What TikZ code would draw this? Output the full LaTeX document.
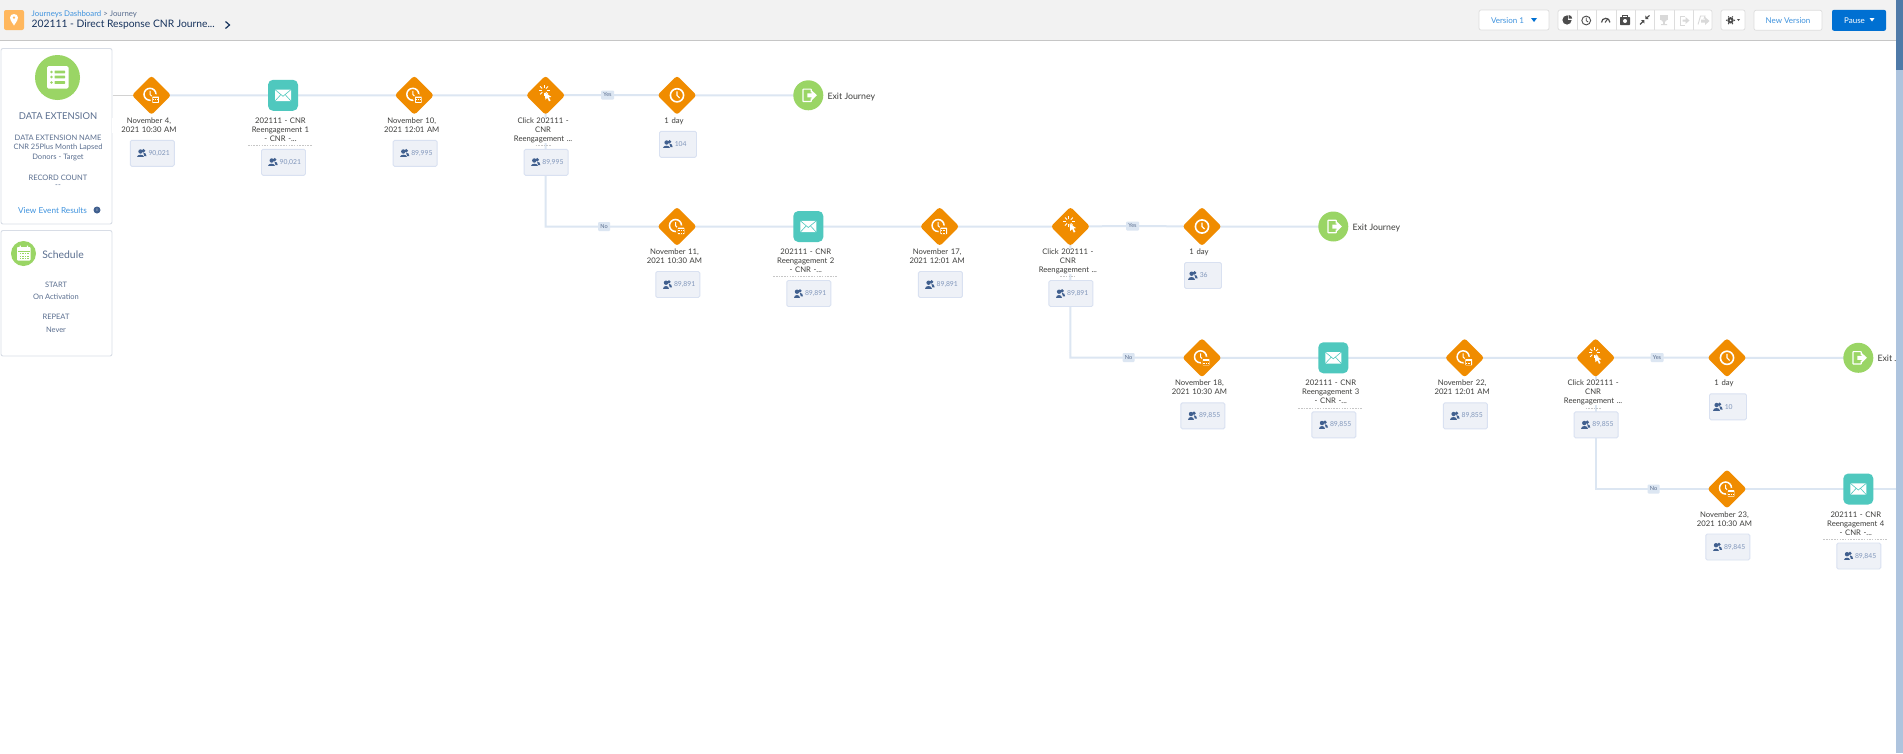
\documentclass[tikz,border=0pt]{standalone}
\usepackage{fontspec}
\setmainfont{Lato}
\usetikzlibrary{shapes.geometric,backgrounds}
\definecolor{orangeN}{HTML}{F08C00}
\definecolor{tealN}{HTML}{4FC8BE}
\definecolor{greenN}{HTML}{9AD565}
\definecolor{linkC}{HTML}{DCE6F2}
\definecolor{boxF}{HTML}{EEF1F7}
\definecolor{boxB}{HTML}{D9E1F1}
\definecolor{labelC}{HTML}{3E3E3C}
\definecolor{slateC}{HTML}{5A6E8F}
\definecolor{navyC}{HTML}{16325C}
\definecolor{blueC}{HTML}{3F93DE}
\definecolor{peopleC}{HTML}{41608F}
\definecolor{countC}{HTML}{7F95BA}
\definecolor{panelB}{HTML}{D8DDE6}
\definecolor{headF}{HTML}{F2F2F2}
\definecolor{btnB}{HTML}{DDDDDD}
\definecolor{iconD}{HTML}{4C4C4C}
\definecolor{iconL}{HTML}{D9D9D9}
\definecolor{appC}{HTML}{FFB75D}
\definecolor{pauseC}{HTML}{0070D2}
\definecolor{stripC}{HTML}{AEC4DE}
\definecolor{stripT}{HTML}{4F7AA8}
\tikzset{
  x=1pt,y=-1pt,
  diam/.style={diamond,aspect=1,minimum size=39.5pt,inner sep=0pt,fill=orangeN,rounded corners=3pt},
  tealbox/.style={minimum width=30pt,minimum height=31pt,inner sep=0pt,fill=tealN,rounded corners=5pt},
  exitc/.style={circle,minimum size=30pt,inner sep=0pt,fill=greenN},
  cntbox/.style={minimum width=#1,minimum height=26pt,inner sep=0pt,fill=boxF,draw=boxB,line width=.9pt,rounded corners=1.5pt},
  cntbox/.default=44pt,
  lab/.style={anchor=north,inner sep=0pt,text width=74pt,align=center,text=labelC,font=\fontsize{7.7}{9}\selectfont,fill=white},
  cnttext/.style={inner sep=0pt,text=countC,font=\fontsize{6.8}{8}\selectfont},
  exitt/.style={anchor=west,inner sep=0pt,text=labelC,font=\fontsize{8.8}{10}\selectfont},
  link/.style={draw=linkC,line width=2pt},
  tag/.style={inner sep=0pt,minimum height=9pt,fill=linkC,rounded corners=1pt,text=slateC,font=\fontsize{5.6}{6}\selectfont},
  frag/.style={draw=gray!45,line width=.6pt,dash pattern=on 1.5pt off 1.2pt},
  panel/.style={draw=panelB,line width=.9pt,fill=white,rounded corners=2pt},
  ptitle/.style={inner sep=0pt,text=slateC,font=\fontsize{#1}{10}\selectfont},
  ptitle/.default=7.5,
  btn/.style={draw=btnB,line width=.7pt,fill=white,rounded corners=2pt},
  peopleicon/.pic={
    \fill[peopleC] (1.8,-2.6) circle (1.8) (-1.2,-1.8) circle (2.2);
    \fill[peopleC] (-4.6,4) .. controls (-4.6,0.6) and (2,0.6) .. (2,4) -- cycle;
    \fill[peopleC] (1.6,-0.6) .. controls (3.6,-0.8) and (4.8,0.6) .. (4.8,2.8) -- (2.6,2.8) -- cycle;
  },
  clockicon/.pic={
    \draw[white,line width=1.6pt] (0,0) circle (6.6);
    \draw[white,line width=1.1pt] (0,-4) -- (0,0) -- (2.6,2.6);
  },
  timericon/.pic={
    \draw[white,line width=1.5pt] (-1.5,-1) circle (6);
    \draw[white,line width=1pt] (-1.5,-4.4) -- (-1.5,-.8) -- (.8,1.4);
    \fill[orangeN] (4.2,4.2) circle (5.4);
    \fill[white,rounded corners=.5pt] (.8,1.2) rectangle (7.4,7.6);
    \draw[orangeN,line width=.5pt] (1.4,3) -- (6.8,3) (1.4,4.6) -- (6.8,4.6) (1.4,6.2) -- (6.8,6.2) (3,3) -- (3,7) (5.2,3) -- (5.2,7);
  },
  clickicon/.pic={
    \foreach \a in {0,45,...,315}{\draw[white,line width=.9pt] (\a:2.6) ++(-.5,-2) -- ++(\a:3);}
    \fill[white] (.2,.2) -- (6.8,4.6) -- (4.2,5) -- (6,8.2) -- (4.4,9) -- (2.8,5.6) -- (.8,7.4) -- cycle;
  },
  mailicon/.pic={
    \fill[white,rounded corners=.5pt] (-8,-5.7) rectangle (8,5.7);
    \draw[tealN,line width=.6pt] (-8,-5.7) -- (0,1) -- (8,-5.7) (-8,5.7) -- (-2.2,-.6) (8,5.7) -- (2.2,-.6);
  },
  exiticon/.pic={
    \draw[white,line width=1.2pt,rounded corners=.6pt] (3,-3) -- (3,-6.2) -- (-5.4,-6.2) -- (-5.4,6.2) -- (3,6.2) -- (3,3);
    \fill[white] (-1,-2) -- (3.4,-2) -- (3.4,-5) -- (8.6,0) -- (3.4,5) -- (3.4,2) -- (-1,2) -- cycle;
  },
}
\newcommand{\CountBox}[5]{% name, x, y, count, width
  \node[cntbox=#5] (#1-cnt) at (#2,#3) {};
  \pic at ({#2-10.6+(44-#5)*.06},#3) {peopleicon};
  \node[cnttext,anchor=west] (#1-val) at ({#2-4+(44-#5)*.08},#3) {#4};
}
\newcommand{\TimerN}[6]{% name,x,y,l1,l2,count
  \node[diam] (#1) at (#2,#3) {};
  \pic at (#2,#3) {timericon};
  \node[lab] (#1-lab) at ({#2-2.5},{#3+22.3}) {#4\\#5};
  \CountBox{#1}{#2+.8}{#3+58}{#6}{44}
}
\newcommand{\MailN}[5]{% name,x,y,num,count
  \node[tealbox] (#1) at (#2,#3) {};
  \pic at (#2,#3) {mailicon};
  \node[lab] (#1-lab) at ({#2-2.5},{#3+22.3}) {202111 - CNR\\Reengagement #4\\- CNR -...};
  \draw[frag] ({#2-35},{#3+50}) -- ({#2+29},{#3+50});
  \CountBox{#1}{#2+.5}{#3+67}{#5}{44}
}
\newcommand{\ClickN}[4]{% name,x,y,count
  \node[diam] (#1) at (#2,#3) {};
  \pic at ({#2-1},{#3-3}) {clickicon};
  \node[lab] (#1-lab) at ({#2-2.5},{#3+22.3}) {Click 202111 -\\CNR\\Reengagement ...};
  \draw[frag] ({#2-10},{#3+50}) -- ({#2+5},{#3+50});
  \CountBox{#1}{#2+.5}{#3+67}{#4}{44}
}
\newcommand{\DayN}[4]{% name,x,y,count
  \node[diam] (#1) at (#2,#3) {};
  \pic at (#2,#3) {clockicon};
  \node[lab,text width=30pt] (#1-lab) at ({#2-3},{#3+22.3}) {1 day};
  \CountBox{#1}{#2+1}{#3+49}{#4}{37}
}
\newcommand{\ExitN}[3]{% name,x,y
  \node[exitc] (#1) at (#2,#3) {};
  \pic at (#2,#3) {exiticon};
  \node[exitt] (#1-lab) at ({#2+19},{#3+1.3}) {Exit Journey};
}
\begin{document}
\begin{tikzpicture}
\useasboundingbox (0,0) rectangle (1903,753);
\begin{pgfonlayer}{background}
\fill[white] (0,0) rectangle (1903,753);
\end{pgfonlayer}
% header
\fill[headF] (0,0) rectangle (1903,40);
\draw[gray!45,line width=.9pt] (0,40.5) -- (1903,40.5);
\node[fill=appC,minimum size=20pt,inner sep=0pt,rounded corners=2pt] (appicon) at (14,20) {};
\fill[white,even odd rule] (14,25.5) .. controls (11,21) and (10,19.5) .. (10,17.6) .. controls (10,15.4) and (11.8,14) .. (14,14) .. controls (16.2,14) and (18,15.4) .. (18,17.6) .. controls (18,19.5) and (17,21) .. (14,25.5) -- cycle (14,17.6) circle (1.6);
\node[anchor=west,inner sep=0pt,font=\fontsize{7.8}{9}\selectfont] (crumb) at (31.5,14.3) {\textcolor{blueC}{Journeys Dashboard}\textcolor{slateC}{\ >\ Journey}};
\node[anchor=west,inner sep=0pt,text=navyC,font=\fontsize{10.3}{11}\selectfont] (title) at (31.5,25) {202111 - Direct Response CNR Journe...};
\draw[navyC,line width=1.2pt] (225.5,21.5) -- (229.5,25) -- (225.5,28.5);
% toolbar
\node[btn,minimum width=70pt,minimum height=20pt,inner sep=0pt] (verb) at (1514,20) {};
\node[inner sep=0pt,text=blueC,font=\fontsize{8}{9}\selectfont] (vert) at (1507.5,20.3) {Version 1};
\fill[pauseC] (1531,18) -- (1537,18) -- (1534,22) -- cycle;
\node[btn,minimum width=154pt,minimum height=20pt,inner sep=0pt] (grp) at (1635,20) {};
\foreach \i in {1,...,7}{\draw[btnB,line width=.6pt] ({1558+19.3*\i},10) -- ({1558+19.3*\i},30);}
% pie
\fill[iconD] (1567,20) circle (4.6);
\fill[white] (1567.5,19.5) rectangle (1572.5,14);
\fill[iconD] (1568.6,18.6) -- (1568.6,15) arc (-90:0:3.6) -- cycle;
% history
\draw[iconD,line width=.9pt] (1586.2,20.5) circle (4.4);
\draw[iconD,line width=.8pt] (1586.2,17.5) -- (1586.2,20.7) -- (1588.2,22);
% gauge
\draw[iconD,line width=1.2pt] (1601.5,22.5) arc (180:360:4.2);
\draw[iconD,line width=1pt] (1605,22.5) -- (1608,18.5);
% case
\fill[iconD,rounded corners=.6pt] (1620,17) rectangle (1630,25);
\draw[iconD,line width=.8pt] (1622.5,17) -- (1622.5,15.3) -- (1627.5,15.3) -- (1627.5,17);
\fill[white] (1625,21) circle (2);
% arrows
\draw[iconD,line width=1.1pt] (1640,24.5) -- (1643,21.5) (1646.5,18) -- (1649.5,15.5);
\fill[iconD] (1644.3,20) -- (1644.3,23.5) -- (1641,20) -- cycle (1645.3,19) -- (1645.3,15.5) -- (1648.6,19) -- cycle;
% disabled
\fill[iconL] (1660,15) rectangle (1668,19.5);
\fill[iconL] (1664,19) circle (3);
\fill[iconL] (1663.2,21) rectangle (1664.8,24) (1661,24) rectangle (1667,25.2);
\draw[iconL,line width=.9pt] (1685,16) -- (1680,16) -- (1680,25) -- (1685,25);
\fill[iconL] (1682.5,19.5) -- (1685.5,19.5) -- (1685.5,17) -- (1689.5,20.5) -- (1685.5,24) -- (1685.5,21.5) -- (1682.5,21.5) -- cycle;
\draw[iconL,line width=.9pt] (1698,24.5) -- (1700.5,16) -- (1705,16) -- (1704,19);
\fill[iconL] (1701,19.5) -- (1705,19.5) -- (1705,17) -- (1709.5,21) -- (1705,25) -- (1705,22.5) -- (1701,22.5) -- cycle;
\node[btn,minimum width=24pt,minimum height=20pt,inner sep=0pt] (gearb) at (1733,20) {};
\fill[iconD,even odd rule] (1730.5,20.3) circle (3.2) (1730.5,20.3) circle (1.2);
\foreach \a in {0,60,...,300}{\fill[iconD] (1730.5,20.3) ++(\a:3.9) circle (.8);}
\fill[iconD] (1737,19) -- (1740,19) -- (1738.5,21) -- cycle;
\node[btn,minimum width=68pt,minimum height=20pt,inner sep=0pt] (newv) at (1788,20.3) {};
\node[inner sep=0pt,text=blueC,font=\fontsize{8}{9}\selectfont] (newt) at (1788,20.3) {New Version};
\node[fill=pauseC,minimum width=54pt,minimum height=21pt,inner sep=0pt,rounded corners=2pt] (pauseb) at (1859,20.3) {};
\node[inner sep=0pt,text=white,font=\fontsize{8}{9}\selectfont] (pauset) at (1854.5,20.3) {Pause};
\fill[white] (1869.5,18) -- (1874.5,18) -- (1872,21.5) -- cycle;
% side panels
\draw[panel] (1,48.5) rectangle (112,224);
\node[circle,fill=greenN,minimum size=45pt,inner sep=0pt] (decircle) at (57.5,77.5) {};
\fill[white,rounded corners=1.5pt] (47,66) rectangle (68.5,88.5);
\foreach \y in {72,77,82.5}{
  \fill[greenN] (51.5,\y) circle (1.4);
  \fill[greenN,rounded corners=.5pt] (54.5,{\y-1.3}) rectangle (65,{\y+1.3});
}
\node[ptitle=9.4] (det) at (58,115.7) {DATA EXTENSION};
\node[ptitle] (den) at (58,137.5) {DATA EXTENSION NAME};
\node[ptitle] (dev1) at (58,147.5) {CNR 25Plus Month Lapsed};
\node[ptitle] (dev2) at (58,157.5) {Donors - Target};
\node[ptitle] (rc) at (58,177.5) {RECORD COUNT};
\node[ptitle] (rcv) at (58,186.5) {{-}{-}};
\node[inner sep=0pt,text=blueC,font=\fontsize{8.2}{9}\selectfont] (ver) at (52.5,211) {View Event Results};
\node[circle,fill=peopleC,minimum size=7pt,inner sep=0pt,text=white,font=\fontsize{4}{4}\selectfont] (inf) at (97,210) {i};
\draw[panel] (1,230.5) rectangle (112,356);
\node[circle,fill=greenN,minimum size=25pt,inner sep=0pt] (schc) at (23.5,253.5) {};
\fill[white,rounded corners=.8pt] (17,247) rectangle (30.5,260.5);
\fill[greenN] (18,250.5) rectangle (29.5,251);
\foreach \x in {19.5,22,24.7,27.4}{\foreach \y in {253,255.5,258}{\fill[greenN] (\x,\y) rectangle ({\x+1.5},{\y+1.4});}}
\fill[white] (19.5,245.5) rectangle (20.8,248) (26.8,245.5) rectangle (28.1,248);
\node[inner sep=0pt,text=slateC,font=\fontsize{10.4}{11}\selectfont] (scht) at (63,254.5) {Schedule};
\node[ptitle] (st) at (56,284.5) {START};
\node[ptitle] (stv) at (56,297) {On Activation};
\node[ptitle] (rp) at (56,317) {REPEAT};
\node[ptitle] (rpv) at (56,330) {Never};
% journey: row 1
\coordinate (start) at (112.5,95.3);
\TimerN{t1}{151.5}{95.3}{November 4,}{2021 10:30 AM}{90,021}
\MailN{m1}{283}{95.3}{1}{90,021}
\TimerN{w1}{414.3}{95.3}{November 10,}{2021 12:01 AM}{89,995}
\ClickN{c1}{545.6}{95.3}{89,995}
\DayN{d1}{677}{95.3}{104}
\ExitN{x1}{808.3}{95.3}
% row 2
\TimerN{t2}{677}{226.5}{November 11,}{2021 10:30 AM}{89,891}
\MailN{m2}{808.3}{226.5}{2}{89,891}
\TimerN{w2}{939.6}{226.5}{November 17,}{2021 12:01 AM}{89,891}
\ClickN{c2}{1070.4}{226.5}{89,891}
\DayN{d2}{1202}{226.5}{36}
\ExitN{x2}{1333.3}{226.5}
% row 3
\TimerN{t3}{1202}{357.8}{November 18,}{2021 10:30 AM}{89,855}
\MailN{m3}{1333.3}{357.8}{3}{89,855}
\TimerN{w3}{1464.6}{357.8}{November 22,}{2021 12:01 AM}{89,855}
\ClickN{c3}{1595.6}{357.8}{89,855}
\DayN{d3}{1727}{357.8}{10}
\ExitN{x3}{1858.3}{357.8}
% row 4
\TimerN{t4}{1727}{489}{November 23,}{2021 10:30 AM}{89,845}
\MailN{m4}{1858.3}{489}{4}{89,845}
\coordinate (rowend) at (1903,489);
% branch tags
\node[tag,minimum width=13pt] (y1) at (607.5,95) {Yes};
\node[tag,minimum width=12pt] (n1) at (604,226.5) {No};
\node[tag,minimum width=13pt] (y2) at (1132.5,226) {Yes};
\node[tag,minimum width=12pt] (n2) at (1128.5,357.5) {No};
\node[tag,minimum width=13pt] (y3) at (1657,357.5) {Yes};
\node[tag,minimum width=12pt] (n3) at (1653.5,489) {No};
\begin{pgfonlayer}{background}
\draw[gray!35,line width=.9pt] (start) -- (t1.center);
\draw[link] (t1.center) -- (m1.center) -- (w1.center) -- (c1.center) -- (y1.center) -- (d1.center) -- (x1.center);
\draw[link] (c1.center) |- (n1.center) -- (t2.center) -- (m2.center) -- (w2.center) -- (c2.center) -- (y2.center) -- (d2.center) -- (x2.center);
\draw[link] (c2.center) |- (n2.center) -- (t3.center) -- (m3.center) -- (w3.center) -- (c3.center) -- (y3.center) -- (d3.center) -- (x3.center);
\draw[link] (c3.center) |- (n3.center) -- (t4.center) -- (m4.center) -- (rowend);
\end{pgfonlayer}
% right edge strip
\fill[stripC] (1896,0) rectangle (1903,753);
\fill[stripT] (1896,0) rectangle (1903,70);
\end{tikzpicture}
\end{document}
